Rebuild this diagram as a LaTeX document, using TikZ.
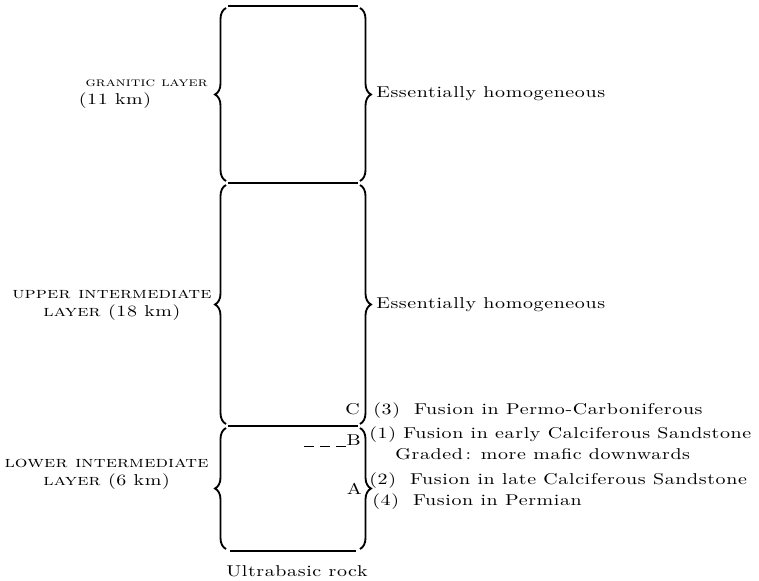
\documentclass[tikz,border=0pt]{standalone}
\usepackage{fontspec}
\setmainfont{lmroman10-regular.otf}[
    FakeStretch=1.27, LetterSpace=4,
    SmallCapsFont=lmromancaps10-regular.otf,
    SmallCapsFeatures={FakeStretch=1.27, LetterSpace=1}]
\usepackage{tikz}
\usetikzlibrary{decorations.pathreplacing,calc}
\tikzset{
    layerbrace/.style={decorate, decoration={brace, amplitude=7.7pt}, line width=1.3pt},
    boundary/.style={line width=0.9pt},
}

\begin{document}
\begin{tikzpicture}[x=0.7pt, y=-0.7pt, font=\fontsize{11}{12.6}\selectfont]
\useasboundingbox (0,0) rectangle (759,580);

\coordinate (gl) at (226,6);   \coordinate (gr) at (360,6);
\coordinate (ul) at (226,183); \coordinate (ur) at (360,183);
\coordinate (ll) at (226,426); \coordinate (lr) at (360,426);
\coordinate (bl) at (226,551); \coordinate (br) at (360,551);

\draw[boundary] ($(gl)+(2,0)$) -- ($(gr)+(-2,0)$);
\draw[boundary] ($(ul)+(2,0)$) -- ($(ur)+(-2,0)$);
\draw[boundary] ($(ll)+(2,0)$) -- ($(lr)+(-2,0)$);
\draw[boundary] ($(bl)+(4,0)$) -- ($(br)+(-4,0)$);

\draw[layerbrace] ($(ul)+(0,-2)$) -- ($(gl)+(0,2)$);
\draw[layerbrace] ($(ll)+(0,-2)$) -- ($(ul)+(0,2)$);
\draw[layerbrace] ($(bl)+(0,-2)$) -- ($(ll)+(0,2)$);
\draw[layerbrace] ($(gr)+(0,2)$) -- ($(ur)+(0,-2)$);
\draw[layerbrace] ($(ur)+(0,2)$) -- ($(lr)+(0,-2)$);
\draw[layerbrace] ($(lr)+(0,2)$) -- ($(br)+(0,-2)$);

\node[anchor=base east, inner sep=0pt, font=\fontsize{8.9}{10}\selectfont] (gran) at (208,86) {\textsc{granitic layer}};
\node[anchor=base, inner sep=0pt] (gran km) at (115,104) {(11 km)};
\node[anchor=east, inner sep=0pt, align=center] (upper) at (212,305) {\textsc{upper intermediate}\\\textsc{layer} (18 km)};
\node[anchor=east, inner sep=0pt, align=center] (lower) at (209,474) {\textsc{lower intermediate}\\\textsc{layer} (6 km)};

\node[anchor=base west, inner sep=0pt] (homog1) at (376,98) {Essentially homogeneous};
\node[anchor=base west, inner sep=0pt] (homog2) at (376,308) {Essentially homogeneous};

\node[anchor=base east, inner sep=0pt] (C) at (360,414) {C};
\node[anchor=base east, inner sep=0pt] (B) at (361,445) {B};
\node[anchor=base east, inner sep=0pt] (A) at (362,494) {A};
\coordinate (dash end) at (346,446);
\draw[line width=0.6pt, dash pattern=on 7pt off 4.2pt] ($(dash end)+(-42,0)$) -- (dash end);

\node[anchor=base west, inner sep=0pt] (f3) at (373,414) {(3)\hskip 0.9em Fusion in Permo-Carboniferous};
\node[anchor=base west, inner sep=0pt] (f1) at (369,438) {(1) Fusion in early Calciferous Sandstone};
\node[anchor=base west, inner sep=0pt] (graded) at (395,459) {Graded\,: more mafic downwards};
\node[anchor=base west, inner sep=0pt] (f2) at (369,484) {(2)\hskip 0.9em Fusion in late Calciferous Sandstone};
\node[anchor=base west, inner sep=0pt] (f4) at (372,505) {(4)\hskip 0.9em Fusion in Permian};

\node[anchor=base, inner sep=0pt] (ultra) at (297,576) {Ultrabasic rock};
\end{tikzpicture}
\end{document}
